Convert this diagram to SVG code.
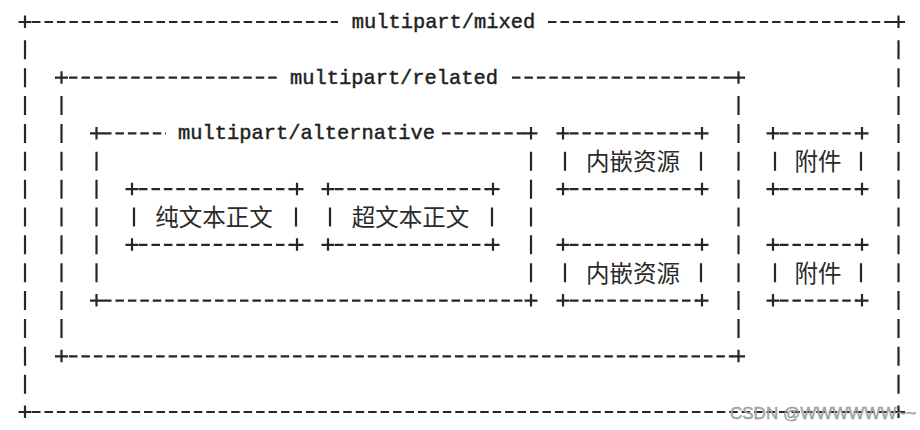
<svg xmlns="http://www.w3.org/2000/svg" xmlns:xlink="http://www.w3.org/1999/xlink" width="920" height="430" viewBox="0 0 920 430">
<style>
.h{stroke:#262626;stroke-width:2.2;stroke-dasharray:8.5 3.95;fill:none}
.v{stroke:#262626;stroke-width:2.2;stroke-dasharray:19 8.857;fill:none}
.lbl{font-family:"Liberation Mono","DejaVu Sans Mono",monospace;font-size:20.4px;fill:#1e1e1e;stroke:#1e1e1e;stroke-width:0.45;text-anchor:middle}
.cjk{font-family:"Noto Sans CJK SC","Noto Sans",sans-serif;font-size:23.5px;fill:#2a2a2a;text-anchor:middle}
.wm{font-family:"Liberation Sans",Arial,sans-serif;font-size:17px;fill:#b0b0b0;stroke:#888;stroke-width:0.4}
</style>
<defs>
<path id="p" d="M-6.5 0H6.5M0 -6.5V6" stroke="#262626" stroke-width="2.2" fill="none"/>
</defs>
<rect width="920" height="430" fill="#fff"/>

<g id="mixed">
<line class="h" x1="32" y1="22" x2="338" y2="22"/>
<line class="h" x1="548" y1="22" x2="893" y2="22"/>
<line class="h" x1="32" y1="412" x2="893" y2="412"/>
<line class="v" x1="25" y1="40.36" x2="25" y2="393.64"/>
<line class="v" x1="898.5" y1="40.36" x2="898.5" y2="393.64"/>
<use xlink:href="#p" x="25" y="22"/><use xlink:href="#p" x="898.5" y="22"/>
<use xlink:href="#p" x="25" y="412"/><use xlink:href="#p" x="898.5" y="412"/>
<text class="lbl" x="443.5" y="28">multipart/mixed</text>
</g>

<g id="related">
<line class="h" x1="69" y1="77.71" x2="277" y2="77.71"/>
<line class="h" x1="512" y1="77.71" x2="733" y2="77.71"/>
<line class="h" x1="69" y1="356.29" x2="733" y2="356.29"/>
<line class="v" x1="61.5" y1="96.07" x2="61.5" y2="337.93"/>
<line class="v" x1="738.5" y1="96.07" x2="738.5" y2="337.93"/>
<use xlink:href="#p" x="61.5" y="77.71"/><use xlink:href="#p" x="738.5" y="77.71"/>
<use xlink:href="#p" x="61.5" y="356.29"/><use xlink:href="#p" x="738.5" y="356.29"/>
<text class="lbl" x="394" y="83.7">multipart/related</text>
</g>

<g id="alternative">
<line class="h" x1="103" y1="133.43" x2="166" y2="133.43"/>
<line class="h" x1="442" y1="133.43" x2="526" y2="133.43"/>
<line class="h" x1="103" y1="300.57" x2="526" y2="300.57"/>
<line class="v" x1="96.5" y1="151.79" x2="96.5" y2="282.21"/>
<line class="v" x1="531" y1="151.79" x2="531" y2="282.21"/>
<use xlink:href="#p" x="96.5" y="133.43"/><use xlink:href="#p" x="531" y="133.43"/>
<use xlink:href="#p" x="96.5" y="300.57"/><use xlink:href="#p" x="531" y="300.57"/>
<text class="lbl" x="306.5" y="139.4">multipart/alternative</text>
</g>

<g id="plain-text">
<line class="h" x1="139" y1="189.14" x2="292" y2="189.14"/>
<line class="h" x1="139" y1="244.86" x2="292" y2="244.86"/>
<line class="v" x1="134" y1="207.5" x2="134" y2="226.5"/>
<line class="v" x1="296" y1="207.5" x2="296" y2="226.5"/>
<use xlink:href="#p" x="132" y="189.14"/><use xlink:href="#p" x="297" y="189.14"/>
<use xlink:href="#p" x="132" y="244.86"/><use xlink:href="#p" x="297" y="244.86"/>
<text class="cjk" x="214" y="225.5">纯文本正文</text>
</g>

<g id="html-text">
<line class="h" x1="335" y1="189.14" x2="488" y2="189.14"/>
<line class="h" x1="335" y1="244.86" x2="488" y2="244.86"/>
<line class="v" x1="330" y1="207.5" x2="330" y2="226.5"/>
<line class="v" x1="492" y1="207.5" x2="492" y2="226.5"/>
<use xlink:href="#p" x="328" y="189.14"/><use xlink:href="#p" x="493" y="189.14"/>
<use xlink:href="#p" x="328" y="244.86"/><use xlink:href="#p" x="493" y="244.86"/>
<text class="cjk" x="410.5" y="225.5">超文本正文</text>
</g>

<g id="inline-1">
<line class="h" x1="570" y1="133.43" x2="697" y2="133.43"/>
<line class="h" x1="570" y1="189.14" x2="697" y2="189.14"/>
<line class="v" x1="565" y1="151.79" x2="565" y2="170.79"/>
<line class="v" x1="701" y1="151.79" x2="701" y2="170.79"/>
<use xlink:href="#p" x="563" y="133.43"/><use xlink:href="#p" x="702" y="133.43"/>
<use xlink:href="#p" x="563" y="189.14"/><use xlink:href="#p" x="702" y="189.14"/>
<text class="cjk" x="633" y="169.8">内嵌资源</text>
</g>

<g id="inline-2">
<line class="h" x1="570" y1="244.86" x2="697" y2="244.86"/>
<line class="h" x1="570" y1="300.57" x2="697" y2="300.57"/>
<line class="v" x1="565" y1="263.21" x2="565" y2="282.21"/>
<line class="v" x1="701" y1="263.21" x2="701" y2="282.21"/>
<use xlink:href="#p" x="563" y="244.86"/><use xlink:href="#p" x="702" y="244.86"/>
<use xlink:href="#p" x="563" y="300.57"/><use xlink:href="#p" x="702" y="300.57"/>
<text class="cjk" x="633" y="281.5">内嵌资源</text>
</g>

<g id="attachment-1">
<line class="h" x1="780" y1="133.43" x2="857" y2="133.43"/>
<line class="h" x1="780" y1="189.14" x2="857" y2="189.14"/>
<line class="v" x1="775" y1="151.79" x2="775" y2="170.79"/>
<line class="v" x1="861" y1="151.79" x2="861" y2="170.79"/>
<use xlink:href="#p" x="773" y="133.43"/><use xlink:href="#p" x="862" y="133.43"/>
<use xlink:href="#p" x="773" y="189.14"/><use xlink:href="#p" x="862" y="189.14"/>
<text class="cjk" x="818" y="169.8">附件</text>
</g>

<g id="attachment-2">
<line class="h" x1="780" y1="244.86" x2="857" y2="244.86"/>
<line class="h" x1="780" y1="300.57" x2="857" y2="300.57"/>
<line class="v" x1="775" y1="263.21" x2="775" y2="282.21"/>
<line class="v" x1="861" y1="263.21" x2="861" y2="282.21"/>
<use xlink:href="#p" x="773" y="244.86"/><use xlink:href="#p" x="862" y="244.86"/>
<use xlink:href="#p" x="773" y="300.57"/><use xlink:href="#p" x="862" y="300.57"/>
<text class="cjk" x="818" y="281.5">附件</text>
</g>

<text class="wm" x="730" y="419">CSDN @WWWWWW~~</text>
</svg>
